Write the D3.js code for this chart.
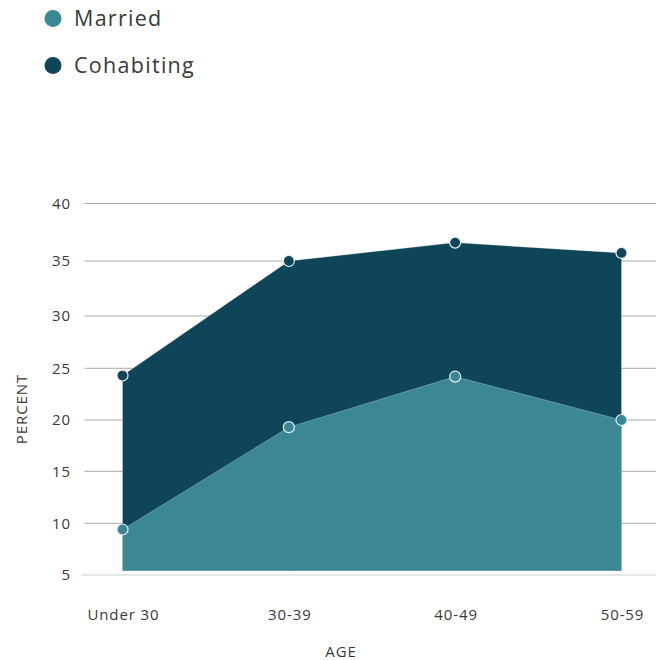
<!DOCTYPE html>
<html>
<head>
<meta charset="utf-8">
<script src="https://cdn.jsdelivr.net/npm/d3@7"></script>
<style>
  html, body { margin: 0; padding: 0; background: #fff; }
  svg { display: block; font-family: "Open Sans", Lato, sans-serif; }
  text { letter-spacing: 0.06em; }
</style>
</head>
<body>
<svg id="chart" width="656" height="660"></svg>
<script>
const categories = ["Under 30", "30-39", "40-49", "50-59"];
const married = [9.4, 19.3, 24.2, 20.0];
const cohabiting = [24.3, 35.0, 36.6, 35.7];
const yTicks = [5, 10, 15, 20, 25, 30, 35, 40];
const seriesNames = ["Married", "Cohabiting"];
const baseValue = 5.4;

const colors = { Married: "#3b8795", Cohabiting: "#0f4559" };

const svg = d3.select("#chart");

const x = d3.scalePoint().domain(categories).range([122.5, 621.5]);
// the reference's vertical axis is not evenly spaced; follow its tick positions
const y = d3.scaleLinear()
  .domain(yTicks)
  .range([575, 523.3, 471.3, 420, 368.3, 316, 261, 203.5]);

// gridlines
const grid = svg.append("g");
grid.selectAll("line").data(yTicks).enter().append("line")
  .attr("x1", d => d === 5 ? 81 : 84.5)
  .attr("x2", 656)
  .attr("y1", d => y(d)).attr("y2", d => y(d))
  .attr("stroke", d => d === 5 ? "#cfcfcf" : "#aaaaaa")
  .attr("stroke-width", 1);

// y tick labels
svg.append("g").selectAll("text").data(yTicks).enter().append("text")
  .attr("x", 71).attr("y", d => y(d))
  .attr("dy", "0.35em")
  .attr("text-anchor", "end")
  .attr("font-size", 15)
  .attr("fill", "#3a3a3a")
  .text(d => d);

const area = vals => d3.area()
  .x((d, i) => x(categories[i]))
  .y0(y(baseValue))
  .y1(d => y(d))(vals);

svg.append("path").attr("d", area(cohabiting))
  .attr("fill", colors.Cohabiting)
  .attr("stroke", "rgba(255,255,255,0.35)").attr("stroke-width", 0.8);
svg.append("path").attr("d", area(married))
  .attr("fill", colors.Married)
  .attr("stroke", "rgba(255,255,255,0.35)").attr("stroke-width", 0.8);

// points
[["Cohabiting", cohabiting], ["Married", married]].forEach(([name, vals]) => {
  svg.append("g").selectAll("circle").data(vals).enter().append("circle")
    .attr("cx", (d, i) => x(categories[i]))
    .attr("cy", d => y(d))
    .attr("r", 5.5)
    .attr("fill", colors[name])
    .attr("stroke", "#e8eef0")
    .attr("stroke-width", 1.2);
});

// x labels
svg.append("g").selectAll("text").data(categories).enter().append("text")
  .attr("x", d => x(d) + 1).attr("y", 620)
  .attr("text-anchor", "middle")
  .attr("font-size", 15)
  .attr("fill", "#3a3a3a")
  .text(d => d);

// axis titles
svg.append("text").attr("x", 341).attr("y", 657)
  .attr("text-anchor", "middle").attr("font-size", 15).attr("fill", "#3a3a3a")
  .text("AGE");
svg.append("text")
  .attr("transform", "translate(27,409) rotate(-90)")
  .attr("text-anchor", "middle").attr("font-size", 15).attr("fill", "#3a3a3a")
  .text("PERCENT");

// legend
const legend = svg.append("g").selectAll("g").data(seriesNames).enter().append("g")
  .attr("transform", (d, i) => `translate(0,${18.5 + i * 47})`);
legend.append("circle").attr("cx", 53).attr("cy", 0).attr("r", 8.5)
  .attr("fill", d => colors[d]);
legend.append("text").attr("x", 74).attr("y", 0).attr("dy", "0.35em")
  .attr("font-size", 21.5).attr("fill", "#3a3a3a")
  .text(d => d);
</script>
</body>
</html>
